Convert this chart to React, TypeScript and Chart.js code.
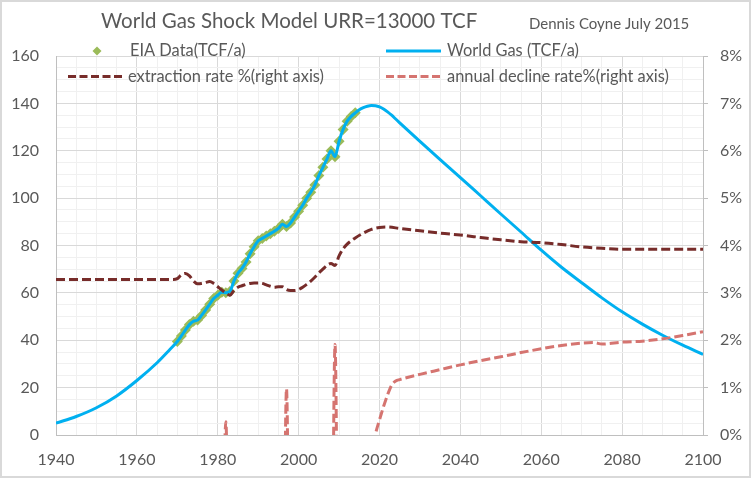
import { useEffect, useRef } from "react"
import { Chart, registerables } from "chart.js"

Chart.register(...registerables)

const titleText = "World Gas Shock Model URR=13000 TCF"
const authorText = "Dennis Coyne July 2015"

// EIA data, 1970-2014 (TCF/a)
const eiaYears = [
  1970, 1971, 1972, 1973, 1974, 1975, 1976, 1977, 1978, 1979,
  1980, 1981, 1982, 1983, 1984, 1985, 1986, 1987, 1988, 1989,
  1990, 1991, 1992, 1993, 1994, 1995, 1996, 1997, 1998, 1999,
  2000, 2001, 2002, 2003, 2004, 2005, 2006, 2007, 2008, 2009,
  2010, 2011, 2012, 2013, 2014,
]
const eiaValues = [
  39.5, 41.8, 44.3, 46.6, 48.0, 48.5, 50.5, 52.8, 55.2, 57.6,
  59.0, 60.3, 60.1, 60.6, 65.0, 68.3, 70.3, 73.0, 76.5, 79.5,
  82.0, 83.0, 84.0, 85.0, 86.0, 87.2, 89.0, 88.0, 89.5, 92.0,
  94.5, 97.0, 100.0, 102.5, 105.5, 109.5, 113.0, 116.5, 120.0, 117.5,
  124.0, 129.0, 132.5, 134.5, 136.0,
]

// model before and after the data period
const earlyYears = [1940, 1945, 1950, 1955, 1960, 1965, 1968]
const earlyValues = [5.0, 7.8, 11.5, 16.5, 23.0, 30.5, 35.8]
const lateYears = [
  2015, 2016, 2017, 2018, 2019, 2020, 2021, 2022, 2023, 2024, 2025,
  2030, 2035, 2040, 2045, 2050, 2055, 2060, 2065, 2070, 2075, 2080, 2085, 2090, 2095, 2100,
]
const lateValues = [
  137.3, 138.2, 138.8, 139.1, 139.0, 138.5, 137.6, 136.4, 135.0, 133.4, 131.8,
  124.0, 116.3, 108.7, 101.0, 93.3, 85.7, 78.0, 70.8, 64.3, 57.9, 52.0, 46.8, 42.1, 37.9, 34.0,
]

// extraction rate, % (right axis)
const extractionYears = [
  1940, 1950, 1960, 1969,
  1970, 1971, 1972, 1973, 1974, 1975, 1976, 1977, 1978, 1979,
  1980, 1981, 1982, 1983, 1984, 1985, 1986, 1987, 1988, 1989,
  1990, 1991, 1992, 1993, 1994, 1995, 1996, 1997, 1998, 1999,
  2000, 2001, 2002, 2003, 2004, 2005, 2006, 2007, 2008, 2009,
  2010, 2011, 2012, 2013, 2014,
  2016, 2018, 2020, 2022, 2025,
  2030, 2035, 2040, 2045, 2050, 2055, 2060, 2065, 2070, 2075, 2080, 2090, 2100,
]
const extractionValues = [
  3.28, 3.28, 3.28, 3.28,
  3.3, 3.38, 3.41, 3.36, 3.25, 3.19, 3.2, 3.22, 3.24, 3.2,
  3.13, 3.06, 3.0, 2.95, 3.05, 3.12, 3.15, 3.18, 3.2, 3.21,
  3.21, 3.2, 3.17, 3.14, 3.12, 3.13, 3.13, 3.07, 3.05, 3.05,
  3.07, 3.12, 3.18, 3.25, 3.33, 3.42, 3.5, 3.58, 3.62, 3.58,
  3.78, 3.93, 4.03, 4.1, 4.16,
  4.26, 4.34, 4.38, 4.39, 4.36,
  4.31, 4.26, 4.22, 4.17, 4.12, 4.08, 4.06, 4.02, 3.97, 3.94, 3.92, 3.92, 3.92,
]

// annual decline rate, % (right axis) - negative values fall below the axis
const declineYears = [
  1981, 1982, 1983, 1996, 1997, 1998, 2008, 2009, 2010,
  2018, 2019, 2020, 2021, 2022, 2023, 2024, 2025,
  2030, 2035, 2040, 2045, 2050, 2055, 2060, 2065, 2070, 2073, 2075, 2080, 2085, 2090, 2095, 2100,
]
const declineValues = [
  -4, 0.28, -4, -5, 0.98, -5, -5, 1.91, -5,
  -0.4, 0.02, 0.32, 0.6, 0.85, 1.05, 1.14, 1.17,
  1.28, 1.38, 1.48, 1.57, 1.65, 1.74, 1.82, 1.89, 1.94, 1.95, 1.92, 1.96, 1.98, 2.03, 2.1, 2.18,
]

const yearLabels = [1940, 1960, 1980, 2000, 2020, 2040, 2060, 2080, 2100]
const gasLabels = [0, 20, 40, 60, 80, 100, 120, 140, 160]
const percentLabels = ["0%", "1%", "2%", "3%", "4%", "5%", "6%", "7%", "8%"]

const toPoints = (xs: number[], ys: number[]) => xs.map((x, i) => ({ x, y: ys[i] }))

const FONT = "Lato, 'Liberation Sans', sans-serif"
const TEXT = "#595959"
const MAJOR = "#D9D9D9"
const MINOR = "#F0F0F0"
const AXIS = "#BFBFBF"

const titleLegendPlugin = {
  id: "titleLegend",
  afterDraw(chart: any) {
    const ctx = chart.ctx
    const ds = chart.data.datasets
    ctx.save()
    ctx.fillStyle = TEXT
    ctx.textBaseline = "middle"
    ctx.textAlign = "left"
    ctx.font = `20.5px ${FONT}`
    ctx.fillText(titleText, 101, 21)
    ctx.font = `15px ${FONT}`
    ctx.fillText(authorText, 529, 24)

    ctx.font = `16.4px ${FONT}`
    ctx.fillText(ds[0].label, 130, 51)
    ctx.fillText(ds[1].label, 447, 51)
    ctx.fillText(ds[2].label, 128, 76.5)
    ctx.fillText(ds[3].label, 447, 76.5)

    // diamond marker
    ctx.fillStyle = "#9BBB59"
    ctx.beginPath()
    ctx.moveTo(97, 46.5)
    ctx.lineTo(101.5, 51)
    ctx.lineTo(97, 55.5)
    ctx.lineTo(92.5, 51)
    ctx.closePath()
    ctx.fill()

    // line samples
    ctx.lineWidth = 3
    ctx.strokeStyle = "#00B0F0"
    ctx.beginPath()
    ctx.moveTo(386, 51)
    ctx.lineTo(441, 51)
    ctx.stroke()

    ctx.setLineDash([8, 3.5])
    ctx.strokeStyle = "#772C2A"
    ctx.beginPath()
    ctx.moveTo(68, 76.5)
    ctx.lineTo(124, 76.5)
    ctx.stroke()

    ctx.strokeStyle = "#D57470"
    ctx.beginPath()
    ctx.moveTo(386, 76.5)
    ctx.lineTo(442, 76.5)
    ctx.stroke()
    ctx.restore()
  },
}

export default function App() {
  const chartRef = useRef<HTMLCanvasElement>(null)
  const chartInstance = useRef<Chart | null>(null)

  useEffect(() => {
    if (!chartRef.current) return
    const ctx = chartRef.current.getContext("2d")
    if (!ctx) return
    if (chartInstance.current) chartInstance.current.destroy()

    chartInstance.current = new Chart(ctx, {
      type: "line",
      data: {
        datasets: [
          {
            label: "EIA Data(TCF/a)",
            data: toPoints(eiaYears, eiaValues),
            showLine: false,
            pointStyle: "rectRot",
            pointRadius: 5.5,
            pointBackgroundColor: "#9BBB59",
            pointBorderColor: "#9BBB59",
            pointBorderWidth: 0,
            yAxisID: "y",
            order: 3,
          },
          {
            label: "World Gas (TCF/a)",
            data: toPoints(
              [...earlyYears, ...eiaYears, ...lateYears],
              [...earlyValues, ...eiaValues, ...lateValues]
            ),
            borderColor: "#00B0F0",
            borderWidth: 3,
            pointRadius: 0,
            cubicInterpolationMode: "monotone",
            yAxisID: "y",
            clip: 0,
            order: 2,
          },
          {
            label: "extraction rate %(right axis)",
            data: toPoints(extractionYears, extractionValues),
            borderColor: "#772C2A",
            borderWidth: 3,
            borderDash: [9, 4],
            pointRadius: 0,
            cubicInterpolationMode: "monotone",
            yAxisID: "y1",
            order: 1,
          },
          {
            label: "annual decline rate%(right axis)",
            data: toPoints(declineYears, declineValues),
            borderColor: "#D57470",
            borderWidth: 3,
            borderDash: [9, 4],
            pointRadius: 0,
            cubicInterpolationMode: "monotone",
            yAxisID: "y1",
            clip: 0,
            order: 0,
          },
        ],
      },
      options: {
        animation: false,
        responsive: true,
        maintainAspectRatio: false,
        layout: { padding: { top: 56 } },
        plugins: {
          legend: { display: false },
          title: { display: false },
          tooltip: { enabled: false },
        },
        scales: {
          x: {
            type: "linear",
            min: 1940,
            max: 2100,
            afterFit: (s: any) => {
              s.height = 44
            },
            ticks: {
              stepSize: 5,
              autoSkip: false,
              maxRotation: 0,
              padding: 15,
              color: TEXT,
              font: { family: FONT, size: 16 },
              callback: (v: any) => (yearLabels.includes(v) ? String(v) : ""),
            },
            grid: {
              drawTicks: false,
              color: (c: any) => (c.tick && c.tick.value % 20 === 0 ? MAJOR : MINOR),
            },
            border: { color: AXIS },
          },
          y: {
            position: "left",
            min: 0,
            max: 160,
            afterFit: (s: any) => {
              s.width = 56
            },
            ticks: {
              stepSize: 5,
              autoSkip: false,
              padding: 17,
              color: TEXT,
              font: { family: FONT, size: 16 },
              callback: (v: any) => (gasLabels.includes(v) ? String(v) : ""),
            },
            grid: {
              drawTicks: false,
              color: (c: any) => (c.tick && c.tick.value % 20 === 0 ? MAJOR : MINOR),
            },
            border: { color: AXIS },
          },
          y1: {
            position: "right",
            min: 0,
            max: 8,
            afterFit: (s: any) => {
              s.width = 49
            },
            ticks: {
              stepSize: 1,
              autoSkip: false,
              padding: 12,
              color: TEXT,
              font: { family: FONT, size: 16 },
              callback: (v: any) => percentLabels[Math.round(v)] ?? "",
            },
            grid: {
              drawOnChartArea: false,
              tickLength: 5,
              color: AXIS,
            },
            border: { color: AXIS },
          },
        },
      },
      plugins: [titleLegendPlugin],
    })

    return () => {
      if (chartInstance.current) {
        chartInstance.current.destroy()
        chartInstance.current = null
      }
    }
  }, [])

  return (
    <div style={{ position: "fixed", left: 0, top: 0, width: 752, height: 479, background: "#fff" }}>
      <canvas ref={chartRef} />
      <div
        style={{
          position: "absolute",
          left: 0,
          top: 0,
          width: 751,
          height: 478,
          boxSizing: "border-box",
          border: "2px solid #D9D9D9",
          pointerEvents: "none",
        }}
      />
    </div>
  )
}
